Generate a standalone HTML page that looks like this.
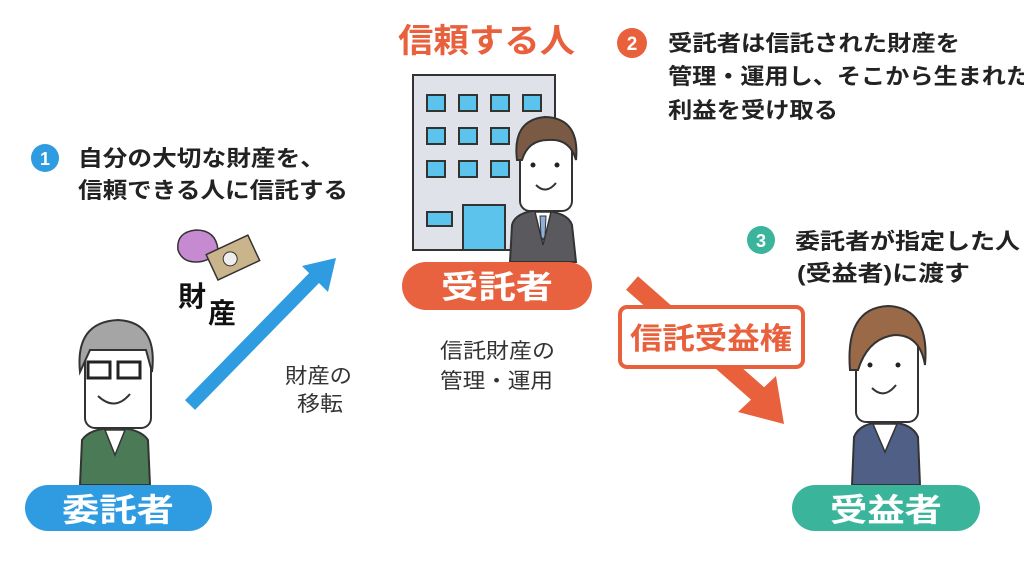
<!DOCTYPE html>
<html><head><meta charset="utf-8"><style>
html,body{margin:0;padding:0;background:#fff;}
svg{display:block;}
text{font-family:"Liberation Sans","Noto Sans CJK JP",sans-serif;}
</style></head><body>
<svg width="1024" height="569" viewBox="0 0 1024 569" xmlns="http://www.w3.org/2000/svg">
<rect width="1024" height="569" fill="#fff"/>

<!-- step 1 -->
<circle cx="45" cy="158" r="14" fill="#2f9be0"/>
<text x="45" y="165" font-size="18" font-weight="bold" fill="#fff" text-anchor="middle">1</text>
<text x="78" y="166" font-size="22" font-weight="bold" fill="#222" textLength="247" lengthAdjust="spacingAndGlyphs">自分の大切な財産を、</text>
<text x="78" y="198" font-size="22" font-weight="bold" fill="#222" textLength="270" lengthAdjust="spacingAndGlyphs">信頼できる人に信託する</text>

<!-- title -->
<text x="398" y="52" font-size="33" font-weight="bold" fill="#e8603c" textLength="177" lengthAdjust="spacingAndGlyphs">信頼する人</text>

<!-- step 2 -->
<circle cx="632" cy="43" r="15" fill="#e8603c"/>
<text x="632" y="50" font-size="19" font-weight="bold" fill="#fff" text-anchor="middle">2</text>
<text x="668" y="51" font-size="22" font-weight="bold" fill="#222" textLength="292" lengthAdjust="spacingAndGlyphs">受託者は信託された財産を</text>
<text x="668" y="84" font-size="22" font-weight="bold" fill="#222" textLength="362" lengthAdjust="spacingAndGlyphs">管理・運用し、そこから生まれた</text>
<text x="668" y="118" font-size="22" font-weight="bold" fill="#222" textLength="170" lengthAdjust="spacingAndGlyphs">利益を受け取る</text>

<!-- step 3 -->
<circle cx="761" cy="240" r="14" fill="#3ab59c"/>
<text x="761" y="247" font-size="18" font-weight="bold" fill="#fff" text-anchor="middle">3</text>
<text x="795" y="249" font-size="22" font-weight="bold" fill="#222" textLength="225" lengthAdjust="spacingAndGlyphs">委託者が指定した人</text>
<text x="797" y="281" font-size="22" font-weight="bold" fill="#222" textLength="173" lengthAdjust="spacingAndGlyphs">(受益者)に渡す</text>

<!-- building -->
<rect x="413" y="75" width="142" height="175" fill="#dfe2e8" stroke="#333" stroke-width="2"/>
<g fill="#5bc3ec" stroke="#333" stroke-width="2">
<rect x="427" y="95" width="18" height="16"/><rect x="459" y="95" width="18" height="16"/><rect x="491" y="95" width="18" height="16"/><rect x="523" y="95" width="18" height="16"/>
<rect x="427" y="128" width="18" height="16"/><rect x="459" y="128" width="18" height="16"/><rect x="491" y="128" width="18" height="16"/>
<rect x="427" y="161" width="18" height="16"/><rect x="459" y="161" width="18" height="16"/><rect x="491" y="161" width="18" height="16"/>
<rect x="427" y="212" width="25" height="14"/><rect x="463" y="205" width="42" height="45"/>
</g>
<!-- businessman -->
<path d="M510 262 L512 225 Q515 212 540 210 Q568 212 572 225 L576 262 Z" fill="#5a5a5e" stroke="#333" stroke-width="2"/>
<path d="M535 212 L543 245 L551 212 Z" fill="#fff" stroke="#333" stroke-width="1.5"/>
<path d="M540 216 L546 216 L545 236 L543 240 L541 236 Z" fill="#8fb0d8" stroke="#333" stroke-width="1"/>
<rect x="520" y="135" width="52" height="76" rx="10" fill="#fff" stroke="#333" stroke-width="2"/>
<path d="M517 160 Q512 120 545 117 Q580 118 576 160 Q570 138 548 140 Q528 140 522 160 Z" fill="#7a5a44" stroke="#333" stroke-width="2"/>
<circle cx="533" cy="165" r="2.5" fill="#222"/><circle cx="557" cy="165" r="2.5" fill="#222"/>
<path d="M536 185 Q546 195 556 183" fill="none" stroke="#333" stroke-width="2"/>

<!-- pills -->
<rect x="402" y="262" width="190" height="48" rx="24" fill="#e8623f"/>
<text x="497" y="298" font-size="32" font-weight="bold" fill="#fff" text-anchor="middle" textLength="112" lengthAdjust="spacingAndGlyphs">受託者</text>

<text x="440" y="358" font-size="21" fill="#333" textLength="115" lengthAdjust="spacingAndGlyphs">信託財産の</text>
<text x="440" y="388" font-size="21" fill="#333" textLength="113" lengthAdjust="spacingAndGlyphs">管理・運用</text>

<!-- blue arrow -->
<line x1="190" y1="405" x2="320" y2="272" stroke="#2f9be0" stroke-width="14"/>
<polygon points="336,258 302,266 328,292" fill="#2f9be0"/>
<text x="285" y="383" font-size="21" fill="#333" textLength="67" lengthAdjust="spacingAndGlyphs">財産の</text>
<text x="297" y="411" font-size="21" fill="#333" textLength="46" lengthAdjust="spacingAndGlyphs">移転</text>

<!-- money -->
<path d="M178 250 Q176 232 196 230 Q216 230 218 250 Q210 262 196 262 Q182 262 178 250Z" fill="#c68ad0" stroke="#333" stroke-width="1.5"/>
<g transform="rotate(-25 232 258)"><rect x="210" y="244" width="46" height="28" fill="#c9b48c" stroke="#333" stroke-width="1.5"/><circle cx="230" cy="258" r="7" fill="#eee" stroke="#333"/></g>
<text x="178" y="306" font-size="28" font-weight="bold" fill="#111">財</text>
<text x="208" y="323" font-size="28" font-weight="bold" fill="#111">産</text>

<!-- old man -->
<path d="M80 485 L82 440 Q90 428 115 428 Q140 428 148 440 L150 485 Z" fill="#4a7a56" stroke="#333" stroke-width="2"/>
<path d="M105 430 L115 455 L125 430 Z" fill="#fff" stroke="#333" stroke-width="1.5"/>
<rect x="85" y="340" width="66" height="88" rx="10" fill="#fff" stroke="#333" stroke-width="2"/>
<path d="M80 372 Q75 322 118 320 Q158 322 152 372 L146 350 L90 350 Z" fill="#a5a5a5" stroke="#333" stroke-width="2"/>
<rect x="88" y="362" width="22" height="16" fill="none" stroke="#222" stroke-width="3"/>
<rect x="118" y="362" width="22" height="16" fill="none" stroke="#222" stroke-width="3"/>
<path d="M98 396 Q115 412 130 394" fill="none" stroke="#333" stroke-width="2"/>
<rect x="25" y="485" width="187" height="46" rx="23" fill="#2f9be0"/>
<text x="118" y="521" font-size="32" font-weight="bold" fill="#fff" text-anchor="middle" textLength="112" lengthAdjust="spacingAndGlyphs">委託者</text>

<!-- orange arrow -->
<line x1="632" y1="283" x2="765" y2="400" stroke="#e8603c" stroke-width="18"/>
<polygon points="784,424 738,412 776,376" fill="#e8603c"/>
<rect x="620" y="307" width="183" height="60" rx="7" fill="#fff" stroke="#e8603c" stroke-width="4"/>
<text x="711" y="349" font-size="30" font-weight="bold" fill="#e8603c" text-anchor="middle" textLength="162" lengthAdjust="spacingAndGlyphs">信託受益権</text>

<!-- young man -->
<path d="M852 485 L854 437 Q860 422 885 422 Q912 422 918 437 L920 485 Z" fill="#4f5f86" stroke="#333" stroke-width="2"/>
<path d="M873 424 L885 452 L897 424 Z" fill="#fff" stroke="#333" stroke-width="1.5"/>
<rect x="856" y="330" width="62" height="92" rx="10" fill="#fff" stroke="#333" stroke-width="2"/>
<path d="M850 370 Q845 308 888 306 Q930 308 925 365 Q920 335 895 335 Q868 338 858 370 Z" fill="#9a6a48" stroke="#333" stroke-width="2"/>
<circle cx="870" cy="365" r="2.5" fill="#222"/><circle cx="898" cy="365" r="2.5" fill="#222"/>
<path d="M872 388 Q884 400 896 385" fill="none" stroke="#333" stroke-width="2"/>
<rect x="792" y="485" width="188" height="46" rx="23" fill="#3ab59c"/>
<text x="886" y="521" font-size="32" font-weight="bold" fill="#fff" text-anchor="middle" textLength="112" lengthAdjust="spacingAndGlyphs">受益者</text>
</svg>
</body></html>
